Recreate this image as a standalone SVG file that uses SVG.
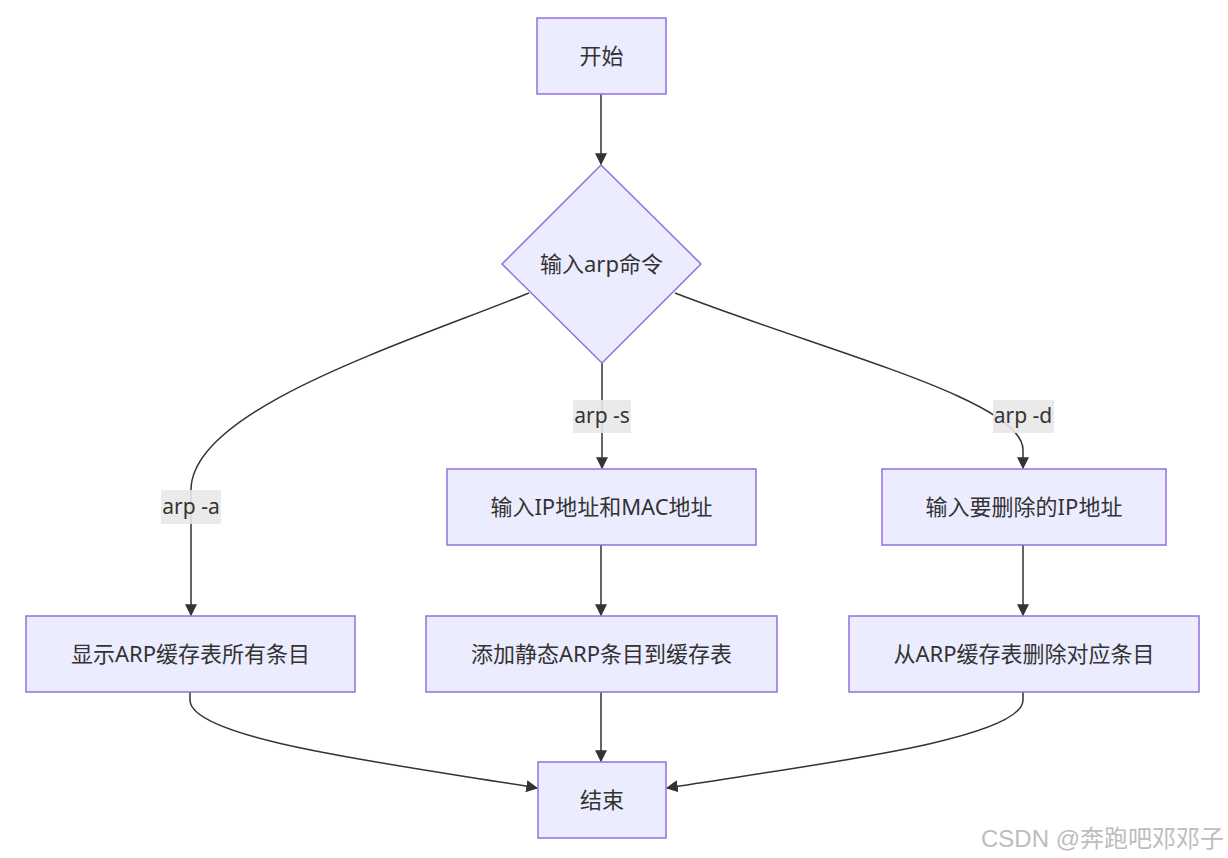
<svg xmlns="http://www.w3.org/2000/svg" width="1228" height="858" viewBox="0 0 1228 858">
<style>
.node rect,.node polygon{fill:#ECECFF;stroke:#9370DB;stroke-width:1.5}
.t{font-family:"Noto Sans","Noto Sans CJK SC",sans-serif;font-size:22px;fill:#333;text-anchor:middle;dominant-baseline:central}
.e{fill:none;stroke:#333;stroke-width:1.5}
.lb{fill:#e8e8e8;opacity:0.9}
.wm{font-family:"Liberation Sans","Noto Sans CJK SC",sans-serif;font-size:24px;fill:#bdbdbd;text-anchor:end}
</style>
<defs>
<marker id="ah" viewBox="0 0 10 10" refX="9" refY="5" markerWidth="12" markerHeight="12" markerUnits="userSpaceOnUse" orient="auto">
<path d="M0,0 L10,5 L0,10 z" fill="#333"/>
</marker>
</defs>
<rect width="1228" height="858" fill="#fff"/>
<g id="edges">
<path class="e" d="M601,94 L601,164" marker-end="url(#ah)"/>
<path class="e" d="M529,293 C400,345 191,410 191,490 L191,615" marker-end="url(#ah)"/>
<path class="e" d="M602,363 L602,468" marker-end="url(#ah)"/>
<path class="e" d="M675,293 C830,353 1023,400 1023,450 L1023,468" marker-end="url(#ah)"/>
<path class="e" d="M601,545 L601,615" marker-end="url(#ah)"/>
<path class="e" d="M1023,545 L1023,615" marker-end="url(#ah)"/>
<path class="e" d="M601,692 L601,761" marker-end="url(#ah)"/>
<path class="e" d="M190,692 L190,700 C190,740 400,765 537,788" marker-end="url(#ah)"/>
<path class="e" d="M1023,692 L1023,700 C1023,740 810,765 667,788" marker-end="url(#ah)"/>
<rect class="lb" x="573" y="400" width="58" height="33"/>
<text class="t" x="602" y="415" style="font-size:21px">arp -s</text>
<rect class="lb" x="161" y="490" width="60" height="34"/>
<text class="t" x="191" y="506" style="font-size:21px">arp -a</text>
<rect class="lb" x="993" y="400" width="61" height="33"/>
<text class="t" x="1023" y="415" style="font-size:21px">arp -d</text>
</g>
<g id="start" class="node"><rect x="537" y="18" width="129" height="76"/><text class="t" x="601.5" y="54.5">开始</text></g>
<g id="decide" class="node"><polygon points="601,165 701,264 602,363 502,264"/><text class="t" x="601.5" y="262.5">输入arp命令</text></g>
<g id="inputIpMac" class="node"><rect x="447" y="469" width="309" height="76"/><text class="t" x="601.5" y="505.5">输入IP地址和MAC地址</text></g>
<g id="inputDelIp" class="node"><rect x="882" y="469" width="284" height="76"/><text class="t" x="1024" y="505.5">输入要删除的IP地址</text></g>
<g id="showAll" class="node"><rect x="26" y="616" width="329" height="76"/><text class="t" x="190.5" y="652.5">显示ARP缓存表所有条目</text></g>
<g id="addStatic" class="node"><rect x="426" y="616" width="351" height="76"/><text class="t" x="601.5" y="652.5">添加静态ARP条目到缓存表</text></g>
<g id="delEntry" class="node"><rect x="849" y="616" width="350" height="76"/><text class="t" x="1024" y="652.5">从ARP缓存表删除对应条目</text></g>
<g id="end" class="node"><rect x="538" y="762" width="128" height="76"/><text class="t" x="602" y="798.5">结束</text></g>
<text class="wm" x="1224" y="847">CSDN @奔跑吧邓邓子</text>
</svg>
